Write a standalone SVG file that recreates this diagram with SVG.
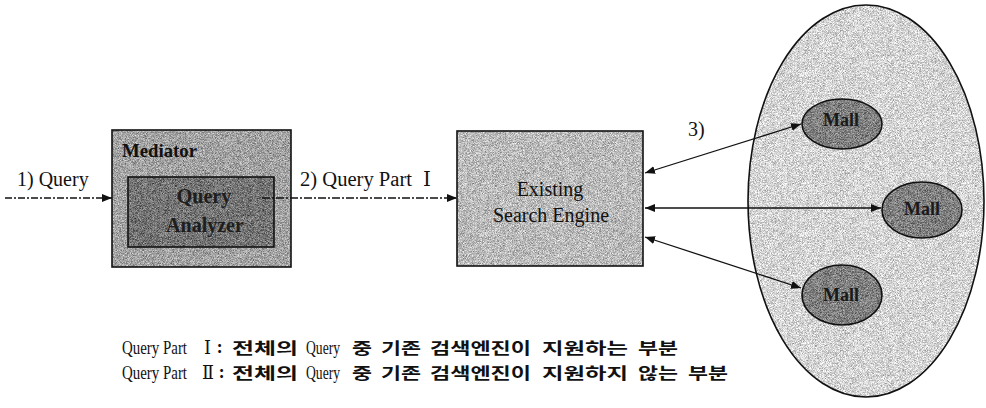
<svg xmlns="http://www.w3.org/2000/svg" width="986" height="408" viewBox="0 0 986 408">
  <defs>
    <style>
      .serif { font-family: "Liberation Serif", "DejaVu Serif", "Noto Sans CJK KR", serif; fill: #111; }
      .lbl { font-size: 20px; }
      .bold { font-weight: bold; }
      .inner { font-size: 20px; font-weight: bold; fill: #1e1e1e; }
      .mall { font-size: 18px; font-weight: bold; fill: #1a1a1a; text-anchor: middle; }
      .ko { font-family: "Noto Sans CJK KR", "Noto Sans", sans-serif; font-size: 16px; font-weight: bold; fill: #111; }
      .note { font-size: 18px; }
      .outline { fill: none; stroke: #111; stroke-width: 1.6; }
      .link { fill: none; stroke: #111; stroke-width: 1.3; }
    </style>
    <!-- stipple texture for the shaded fills -->
    <filter id="grain" x="0%" y="0%" width="100%" height="100%" color-interpolation-filters="sRGB">
      <feTurbulence type="fractalNoise" baseFrequency="1.6" numOctaves="1" seed="7" result="noise"/>
      <feColorMatrix in="noise" type="matrix" values="1 0 0 0 0  1 0 0 0 0  1 0 0 0 0  0 0 0 0 1" result="gray"/>
      <feComposite in="SourceGraphic" in2="gray" operator="arithmetic" k1="0" k2="1" k3="0.9" k4="-0.45" result="mix"/>
      <feComposite in="mix" in2="SourceAlpha" operator="in"/>
    </filter>
    <marker id="head" viewBox="0 0 10 8" refX="10" refY="4" markerWidth="10" markerHeight="8" markerUnits="userSpaceOnUse" orient="auto-start-reverse">
      <path d="M0,0 L10,4 L0,8 Z" fill="#111"/>
    </marker>
  </defs>

  <rect width="986" height="408" fill="#ffffff"/>

  <!-- mall region -->
  <g id="mall-region">
    <ellipse cx="866" cy="201" rx="118" ry="196" fill="#d4d4d4" filter="url(#grain)"/>
    <ellipse class="outline" cx="866" cy="201" rx="118" ry="196" stroke-width="1.4"/>
  </g>

  <!-- mediator with its query analyzer -->
  <g id="mediator">
    <rect x="112" y="130" width="179" height="137" fill="#a2a2a2" filter="url(#grain)"/>
    <rect class="outline" x="112" y="130" width="179" height="137"/>
    <text class="serif bold" x="122" y="157" font-size="19" textLength="75" lengthAdjust="spacingAndGlyphs">Mediator</text>
  </g>
  <g id="query-analyzer">
    <rect x="128" y="177" width="146" height="70" fill="#747474" filter="url(#grain)"/>
    <rect class="outline" x="128" y="177" width="146" height="70"/>
    <text class="serif inner" x="204" y="203" text-anchor="middle">Query</text>
    <text class="serif inner" x="205" y="232" text-anchor="middle">Analyzer</text>
  </g>

  <!-- search engine -->
  <g id="search-engine">
    <rect x="457" y="131" width="186" height="135" fill="#bababa" filter="url(#grain)"/>
    <rect class="outline" x="457" y="131" width="186" height="135"/>
    <text class="serif lbl" x="550" y="196" text-anchor="middle">Existing</text>
    <text class="serif lbl" x="551" y="222" text-anchor="middle">Search Engine</text>
  </g>

  <!-- malls -->
  <g id="mall-1">
    <ellipse cx="842" cy="124" rx="40" ry="25" fill="#808080" filter="url(#grain)"/>
    <ellipse class="outline" cx="842" cy="124" rx="40" ry="25"/>
    <text class="serif mall" x="841" y="126">Mall</text>
  </g>
  <g id="mall-2">
    <ellipse cx="922" cy="210" rx="40" ry="28" fill="#808080" filter="url(#grain)"/>
    <ellipse class="outline" cx="922" cy="210" rx="40" ry="28"/>
    <text class="serif mall" x="922" y="215">Mall</text>
  </g>
  <g id="mall-3">
    <ellipse cx="842" cy="295" rx="40" ry="30" fill="#808080" filter="url(#grain)"/>
    <ellipse class="outline" cx="842" cy="295" rx="40" ry="30"/>
    <text class="serif mall" x="841" y="301">Mall</text>
  </g>

  <!-- connectors -->
  <g id="connectors">
    <line class="link" x1="5" y1="198" x2="112" y2="198" stroke-dasharray="7 2 2 2" marker-end="url(#head)"/>
    <line class="link" x1="262" y1="198" x2="457" y2="198" stroke-dasharray="8 2 2 2" marker-end="url(#head)"/>
    <line class="link" x1="645" y1="173" x2="801" y2="124" marker-start="url(#head)" marker-end="url(#head)"/>
    <line class="link" x1="645" y1="208" x2="881" y2="208" marker-start="url(#head)" marker-end="url(#head)"/>
    <line class="link" x1="645" y1="237" x2="801" y2="288" marker-start="url(#head)" marker-end="url(#head)"/>
  </g>

  <!-- connector labels -->
  <g id="labels">
    <text class="serif lbl" x="17" y="186">1) Query</text>
    <text class="serif lbl" x="300" y="186" textLength="112" lengthAdjust="spacingAndGlyphs">2) Query Part</text>
    <text class="serif lbl" x="423" y="186">Ⅰ</text>
    <text class="serif lbl" x="688" y="136">3)</text>
  </g>

  <!-- legend -->
  <g id="legend">
    <text class="serif note" x="122" y="354" textLength="65" lengthAdjust="spacingAndGlyphs">Query Part</text>
    <text class="serif note" x="204" y="354" textLength="7" lengthAdjust="spacingAndGlyphs">Ⅰ</text>
    <text class="ko" x="217" y="353">:</text>
    <text class="ko" x="232" y="354" textLength="66" lengthAdjust="spacingAndGlyphs">전체의</text>
    <text class="serif note" x="306" y="354" textLength="34" lengthAdjust="spacingAndGlyphs">Query</text>
    <text class="ko" x="352" y="354" textLength="20" lengthAdjust="spacingAndGlyphs">중</text>
    <text class="ko" x="381" y="354" textLength="40" lengthAdjust="spacingAndGlyphs">기존</text>
    <text class="ko" x="430" y="354" textLength="101" lengthAdjust="spacingAndGlyphs">검색엔진이</text>
    <text class="ko" x="542" y="354" textLength="86" lengthAdjust="spacingAndGlyphs">지원하는</text>
    <text class="ko" x="638" y="354" textLength="40" lengthAdjust="spacingAndGlyphs">부분</text>

    <text class="serif note" x="122" y="379" textLength="65" lengthAdjust="spacingAndGlyphs">Query Part</text>
    <text class="serif note" x="202" y="379" textLength="12" lengthAdjust="spacingAndGlyphs">Ⅱ</text>
    <text class="ko" x="219" y="378">:</text>
    <text class="ko" x="232" y="379" textLength="66" lengthAdjust="spacingAndGlyphs">전체의</text>
    <text class="serif note" x="306" y="379" textLength="34" lengthAdjust="spacingAndGlyphs">Query</text>
    <text class="ko" x="352" y="379" textLength="20" lengthAdjust="spacingAndGlyphs">중</text>
    <text class="ko" x="381" y="379" textLength="40" lengthAdjust="spacingAndGlyphs">기존</text>
    <text class="ko" x="430" y="379" textLength="101" lengthAdjust="spacingAndGlyphs">검색엔진이</text>
    <text class="ko" x="542" y="379" textLength="86" lengthAdjust="spacingAndGlyphs">지원하지</text>
    <text class="ko" x="638" y="379" textLength="40" lengthAdjust="spacingAndGlyphs">않는</text>
    <text class="ko" x="688" y="379" textLength="40" lengthAdjust="spacingAndGlyphs">부분</text>
  </g>
</svg>
